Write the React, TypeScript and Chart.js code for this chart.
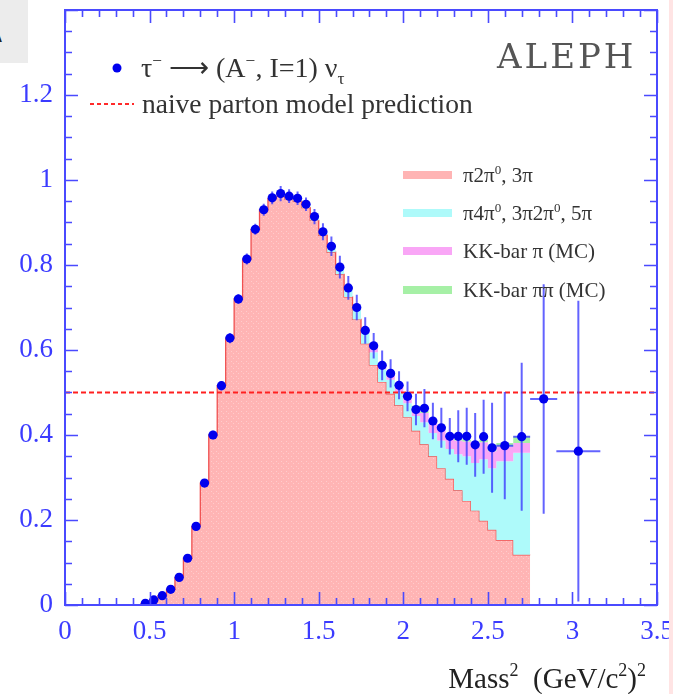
import React, { useEffect, useRef } from 'react';
import { Chart, registerables } from 'chart.js';

Chart.register(...registerables);

// Histogram bin lower edges (GeV²); the last bin closes at HIST_END
const binLow = [
  0.40, 0.45, 0.50, 0.55, 0.60, 0.65, 0.70, 0.75, 0.80, 0.85,
  0.90, 0.95, 1.00, 1.05, 1.10, 1.15, 1.20, 1.25, 1.30, 1.35,
  1.40, 1.45, 1.50, 1.55, 1.60, 1.65, 1.70, 1.75, 1.80, 1.85,
  1.90, 1.95, 2.00, 2.05, 2.10, 2.15, 2.20, 2.25, 2.30, 2.35,
  2.40, 2.45, 2.50, 2.55, 2.65,
];
const HIST_END = 2.75;

// Monte Carlo contributions per bin
const pi2pi0_3pi = [
  0.001, 0.004, 0.012, 0.022, 0.037, 0.065, 0.110, 0.185, 0.287, 0.400,
  0.516, 0.628, 0.720, 0.814, 0.884, 0.930, 0.956, 0.962, 0.955, 0.950,
  0.935, 0.905, 0.870, 0.830, 0.778, 0.725, 0.672, 0.615, 0.565, 0.525,
  0.497, 0.470, 0.442, 0.410, 0.378, 0.350, 0.322, 0.297, 0.270, 0.245,
  0.222, 0.198, 0.177, 0.153, 0.118,
];
const pi4pi0_3pi2pi0_5pi = [
  0, 0, 0, 0, 0, 0, 0, 0, 0, 0,
  0, 0, 0, 0, 0, 0, 0, 0.003, 0.004, 0.005,
  0.006, 0.008, 0.010, 0.012, 0.016, 0.018, 0.022, 0.025, 0.030, 0.030,
  0.033, 0.030, 0.033, 0.035, 0.052, 0.055, 0.065, 0.070, 0.085, 0.105,
  0.112, 0.145, 0.145, 0.185, 0.240,
];
const kkbarPi = [
  0, 0, 0, 0, 0, 0, 0, 0, 0, 0,
  0, 0, 0, 0, 0, 0, 0, 0, 0, 0,
  0, 0, 0.002, 0.003, 0.004, 0.005, 0.006, 0.008, 0.010, 0.012,
  0.013, 0.015, 0.016, 0.020, 0.022, 0.025, 0.028, 0.030, 0.032, 0.035,
  0.038, 0.040, 0.040, 0.035, 0.023,
];
const kkbarPiPi = [
  0, 0, 0, 0, 0, 0, 0, 0, 0, 0,
  0, 0, 0, 0, 0, 0, 0, 0, 0, 0,
  0, 0, 0.002, 0.002, 0.002, 0.002, 0.002, 0.002, 0.002, 0.002,
  0.002, 0.002, 0.004, 0.004, 0.004, 0.004, 0.004, 0.004, 0.004, 0.004,
  0.004, 0.006, 0.006, 0.008, 0.016,
];

// Measured axial-vector spectral function
const massSq = [
  0.475, 0.525, 0.575, 0.625, 0.675, 0.725, 0.775, 0.825, 0.875, 0.925,
  0.975, 1.025, 1.075, 1.125, 1.175, 1.225, 1.275, 1.325, 1.375, 1.425,
  1.475, 1.525, 1.575, 1.625, 1.675, 1.725, 1.775, 1.825, 1.875, 1.925,
  1.975, 2.025, 2.075, 2.125, 2.175, 2.225, 2.275, 2.325, 2.375, 2.425,
  2.475, 2.525, 2.600, 2.700, 2.830, 3.035,
];
const massHalfBin = [
  0.025, 0.025, 0.025, 0.025, 0.025, 0.025, 0.025, 0.025, 0.025, 0.025,
  0.025, 0.025, 0.025, 0.025, 0.025, 0.025, 0.025, 0.025, 0.025, 0.025,
  0.025, 0.025, 0.025, 0.025, 0.025, 0.025, 0.025, 0.025, 0.025, 0.025,
  0.025, 0.025, 0.025, 0.025, 0.025, 0.025, 0.025, 0.025, 0.025, 0.025,
  0.025, 0.025, 0.050, 0.050, 0.080, 0.130,
];
const spectral = [
  0.004, 0.012, 0.022, 0.037, 0.065, 0.110, 0.185, 0.287, 0.400, 0.516,
  0.628, 0.720, 0.814, 0.884, 0.930, 0.958, 0.968, 0.962, 0.957, 0.943,
  0.914, 0.878, 0.844, 0.795, 0.746, 0.700, 0.646, 0.610, 0.564, 0.545,
  0.517, 0.491, 0.460, 0.463, 0.433, 0.417, 0.397, 0.397, 0.397, 0.377,
  0.396, 0.370, 0.375, 0.396, 0.485, 0.362,
];
const spectralErr = [
  0.003, 0.004, 0.004, 0.005, 0.006, 0.007, 0.008, 0.009, 0.010, 0.011,
  0.012, 0.012, 0.013, 0.013, 0.014, 0.015, 0.018, 0.016, 0.016, 0.016,
  0.018, 0.020, 0.023, 0.027, 0.028, 0.030, 0.031, 0.030, 0.035, 0.033,
  0.033, 0.035, 0.037, 0.045, 0.043, 0.047, 0.043, 0.061, 0.067, 0.075,
  0.087, 0.106, 0.126, 0.174, 0.270, 0.354,
];

// Naive parton model level
const partonModel = 0.5;

const X_MIN = 0;
const X_MAX = 3.5;
const Y_MIN = 0;
const Y_MAX = 1.4;

const FRAME = '#4a4aff';
const TICK_TEXT = '#3b3bff';
const SERIF = 'Liberation Serif, Times New Roman, serif';

const RED_FILL = '#ffb4b4';
const CYAN_FILL = '#aefafa';
const MAGENTA_FILL = '#f9a6f6';
const GREEN_FILL = '#a6f0a6';

// index of the measured points among the datasets
const DATA_INDEX = 5;

function stepSeries(values: number[]) {
  const pts = binLow.map((x, i) => ({ x, y: values[i] }));
  pts.push({ x: HIST_END, y: values[values.length - 1] });
  return pts;
}

function addLayers(a: number[], b: number[]) {
  return a.map((v, i) => v + b[i]);
}

function stipple(base: string, dot: string) {
  const c = document.createElement('canvas');
  c.width = 5;
  c.height = 5;
  const g = c.getContext('2d')!;
  g.fillStyle = base;
  g.fillRect(0, 0, 5, 5);
  g.fillStyle = dot;
  g.fillRect(1, 1, 1, 1);
  g.fillRect(3, 3, 1, 1);
  return g.createPattern(c, 'repeat')!;
}

type Part = { t: string; sup?: boolean; sub?: boolean };

function richWidth(ctx: CanvasRenderingContext2D, parts: Part[], size: number) {
  let w = 0;
  for (const p of parts) {
    const s = p.sup || p.sub ? size * 0.62 : size;
    ctx.font = `${s}px ${SERIF}`;
    w += ctx.measureText(p.t).width;
  }
  return w;
}

function drawRich(ctx: CanvasRenderingContext2D, x: number, y: number, parts: Part[], size: number) {
  let cx = x;
  for (const p of parts) {
    const s = p.sup || p.sub ? size * 0.62 : size;
    ctx.font = `${s}px ${SERIF}`;
    const dy = p.sup ? -size * 0.4 : p.sub ? size * 0.25 : 0;
    ctx.fillText(p.t, cx, y + dy);
    cx += ctx.measureText(p.t).width;
  }
}

const errorBars = {
  id: 'errorBars',
  beforeDatasetDraw(chart: any, args: any) {
    if (args.index !== DATA_INDEX) return;
    const { ctx, scales } = chart;
    const xs = scales.x;
    const ys = scales.y;
    ctx.save();
    ctx.strokeStyle = 'rgba(60,60,255,0.8)';
    ctx.lineWidth = 2;
    massSq.forEach((m, i) => {
      const px = xs.getPixelForValue(m);
      const py = ys.getPixelForValue(spectral[i]);
      const lo = ys.getPixelForValue(Math.max(0, spectral[i] - spectralErr[i]));
      const hi = ys.getPixelForValue(spectral[i] + spectralErr[i]);
      ctx.beginPath();
      ctx.moveTo(px, lo);
      ctx.lineTo(px, hi);
      ctx.moveTo(xs.getPixelForValue(m - massHalfBin[i]), py);
      ctx.lineTo(xs.getPixelForValue(m + massHalfBin[i]), py);
      ctx.stroke();
    });
    ctx.restore();
  },
};

const frameAndLabels = {
  id: 'frameAndLabels',
  afterDraw(chart: any) {
    const { ctx, chartArea: a, scales } = chart;
    const xs = scales.x;
    const ys = scales.y;
    ctx.save();

    // frame with inward ticks on all four sides
    ctx.strokeStyle = FRAME;
    ctx.lineWidth = 2;
    ctx.strokeRect(a.left, a.top, a.right - a.left, a.bottom - a.top);
    ctx.lineWidth = 1.6;
    ctx.beginPath();
    for (let k = 0; k <= 35; k++) {
      const px = Math.round(xs.getPixelForValue(k / 10)) + 0.5;
      const len = k % 5 === 0 ? 13 : 7;
      ctx.moveTo(px, a.bottom);
      ctx.lineTo(px, a.bottom - len);
      ctx.moveTo(px, a.top);
      ctx.lineTo(px, a.top + len);
    }
    for (let k = 0; k <= 28; k++) {
      const py = Math.round(ys.getPixelForValue(k / 20)) + 0.5;
      const len = k % 4 === 0 ? 13 : 7;
      ctx.moveTo(a.left, py);
      ctx.lineTo(a.left + len, py);
      ctx.moveTo(a.right, py);
      ctx.lineTo(a.right - len, py);
    }
    ctx.stroke();

    // ALEPH tag
    ctx.fillStyle = '#555555';
    ctx.textBaseline = 'alphabetic';
    ctx.textAlign = 'left';
    ctx.font = `34px DejaVu Serif, serif`;
    (ctx as any).letterSpacing = '3px';
    ctx.fillText('ALEPH', 497, 68);
    (ctx as any).letterSpacing = '0px';

    // data legend
    ctx.fillStyle = '#0000ee';
    ctx.beginPath();
    ctx.arc(117, 68, 4.5, 0, Math.PI * 2);
    ctx.fill();
    ctx.fillStyle = '#333333';
    drawRich(ctx, 141, 77, [
      { t: 'τ' }, { t: '−', sup: true }, { t: ' ⟶ (A' }, { t: '−', sup: true },
      { t: ', I=1) ν' }, { t: 'τ', sub: true },
    ], 28);

    ctx.strokeStyle = '#ff2a2a';
    ctx.lineWidth = 2;
    ctx.setLineDash([4, 3]);
    ctx.beginPath();
    ctx.moveTo(90, 104);
    ctx.lineTo(134, 104);
    ctx.stroke();
    ctx.setLineDash([]);
    ctx.fillStyle = '#333333';
    ctx.font = `27.5px ${SERIF}`;
    ctx.fillText('naive parton model prediction', 142, 113);

    // Monte Carlo legend
    const entries: { fill: string; parts: Part[] }[] = [
      { fill: RED_FILL, parts: [{ t: 'π2π' }, { t: '0', sup: true }, { t: ', 3π' }] },
      { fill: CYAN_FILL, parts: [{ t: 'π4π' }, { t: '0', sup: true }, { t: ', 3π2π' }, { t: '0', sup: true }, { t: ', 5π' }] },
      { fill: MAGENTA_FILL, parts: [{ t: 'KK-bar π (MC)' }] },
      { fill: GREEN_FILL, parts: [{ t: 'KK-bar ππ (MC)' }] },
    ];
    const rows = [175, 213, 251, 290];
    entries.forEach((e, i) => {
      ctx.fillStyle = e.fill;
      ctx.fillRect(403, rows[i] - 4, 49, 8);
      ctx.fillStyle = '#333333';
      drawRich(ctx, 463, rows[i] + 7, e.parts, 21);
    });

    // axis title, right aligned
    const title: Part[] = [
      { t: 'Mass' }, { t: '2', sup: true }, { t: '  (GeV/c' }, { t: '2', sup: true },
      { t: ')' }, { t: '2', sup: true },
    ];
    const w = richWidth(ctx, title, 29);
    ctx.fillStyle = '#222222';
    drawRich(ctx, 646 - w, 688, title, 29);

    ctx.restore();
  },
};

export default function App() {
  const ref = useRef<HTMLCanvasElement | null>(null);

  useEffect(() => {
    const canvas = ref.current;
    if (!canvas) return;

    const layer1 = pi2pi0_3pi;
    const layer2 = addLayers(layer1, pi4pi0_3pi2pi0_5pi);
    const layer3 = addLayers(layer2, kkbarPi);
    const layer4 = addLayers(layer3, kkbarPiPi);

    const histogram = (label: string, values: number[], extra: any) => ({
      label,
      data: stepSeries(values),
      stepped: 'before',
      pointRadius: 0,
      ...extra,
    });

    const chart = new Chart(canvas, {
      type: 'line',
      data: {
        datasets: [
          histogram('π2π⁰, 3π', layer1, {
            borderWidth: 1.3,
            borderColor: '#f05050',
            backgroundColor: stipple(RED_FILL, '#ffcccc'),
            fill: 'origin',
            order: 5,
          }),
          histogram('π4π⁰, 3π2π⁰, 5π', layer2, {
            borderWidth: 0,
            borderColor: CYAN_FILL,
            backgroundColor: CYAN_FILL,
            fill: '-1',
            order: 4,
          }),
          histogram('KK-bar π (MC)', layer3, {
            borderWidth: 0,
            borderColor: MAGENTA_FILL,
            backgroundColor: MAGENTA_FILL,
            fill: '-1',
            order: 3,
          }),
          histogram('KK-bar ππ (MC)', layer4, {
            borderWidth: 0,
            borderColor: GREEN_FILL,
            backgroundColor: GREEN_FILL,
            fill: '-1',
            order: 2,
          }),
          {
            label: 'naive parton model prediction',
            data: [
              { x: X_MIN, y: partonModel },
              { x: X_MAX, y: partonModel },
            ],
            borderColor: '#ff2020',
            borderWidth: 2.2,
            borderDash: [5, 3],
            pointRadius: 0,
            fill: false,
            order: 1,
          },
          {
            label: 'τ⁻ → (A⁻, I=1) ντ',
            data: massSq.map((x, i) => ({ x, y: spectral[i] })),
            showLine: false,
            pointRadius: 4.6,
            pointBackgroundColor: '#0000ee',
            pointBorderWidth: 0,
            fill: false,
            order: 0,
          },
        ],
      },
      options: {
        responsive: false,
        animation: false,
        devicePixelRatio: 1,
        layout: { padding: { left: 8, top: 10, right: 16, bottom: 0 } },
        plugins: {
          legend: { display: false },
          tooltip: { enabled: false },
        },
        scales: {
          x: {
            type: 'linear',
            min: X_MIN,
            max: X_MAX,
            grid: { display: false, drawTicks: false },
            border: { display: false },
            ticks: {
              stepSize: 0.5,
              padding: 11,
              color: TICK_TEXT,
              font: { family: SERIF, size: 27 },
              maxRotation: 0,
              autoSkip: false,
              callback: (v: any) => String(Math.round(Number(v) * 10) / 10),
            },
            afterFit: (s: any) => {
              s.height = 89;
              s.paddingLeft = 0;
              s.paddingRight = 0;
            },
          },
          y: {
            type: 'linear',
            min: Y_MIN,
            max: Y_MAX,
            grid: { display: false, drawTicks: false },
            border: { display: false },
            ticks: {
              stepSize: 0.2,
              padding: 12,
              color: TICK_TEXT,
              font: { family: SERIF, size: 27 },
              callback: (v: any) => (Number(v) > 1.3 ? null : String(Math.round(Number(v) * 10) / 10)),
            },
            afterFit: (s: any) => {
              s.width = 57;
              s.paddingTop = 0;
              s.paddingBottom = 0;
            },
          },
        },
      },
      plugins: [errorBars, frameAndLabels],
    } as any);

    return () => chart.destroy();
  }, []);

  return (
    <div style={{ position: 'fixed', left: 0, top: 0, width: 673, height: 694, background: '#ffffff', overflow: 'hidden' }}>
      <canvas ref={ref} width={673} height={694} style={{ display: 'block', width: 673, height: 694 }} />
      <div style={{ position: 'absolute', left: 0, top: 0, width: 28, height: 63, background: '#ececec', overflow: 'hidden' }}>
        <span style={{ position: 'absolute', left: -10, top: 27, font: 'bold 17px "Liberation Sans", Arial, sans-serif', color: '#222' }}>A</span>
      </div>
      <div style={{ position: 'absolute', left: 669, top: 0, width: 4, height: 694, background: '#ffe4e4' }} />
    </div>
  );
}
